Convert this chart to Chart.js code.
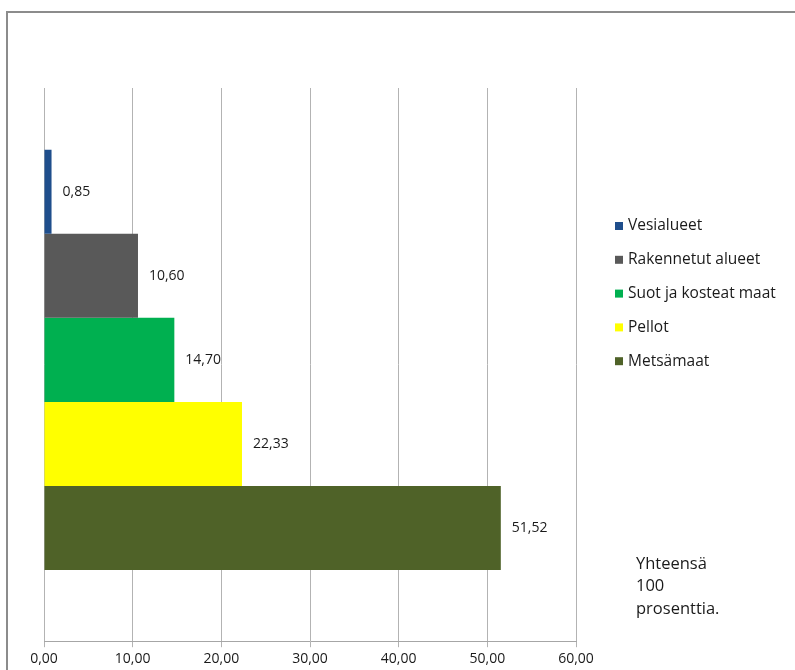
<!DOCTYPE html>
<html>
<head>
<meta charset="utf-8">
<script src="https://cdn.jsdelivr.net/npm/chart.js@4/dist/chart.umd.min.js"></script>
<style>
  html, body { margin: 0; padding: 0; background: #fff; }
  #wrap { position: relative; width: 795px; height: 670px; }
</style>
</head>
<body>
<div id="wrap"><canvas id="maankaytto" width="795" height="670"></canvas></div>
<script>
var seriesNames = ['Vesialueet', 'Rakennetut alueet', 'Suot ja kosteat maat', 'Pellot', 'Metsämaat'];
var seriesValues = [0.85, 10.60, 14.70, 22.33, 51.52];
var seriesColors = ['#1F4E8C', '#595959', '#00B050', '#FFFF00', '#4F6228'];
var xTicks = [0, 10, 20, 30, 40, 50, 60];
var noteLines = ['Yhteensä', '100', 'prosenttia.'];

var FONT = '"Open Sans", "Liberation Sans", sans-serif';

function fiNum(v) {
  return v.toFixed(2).replace('.', ',');
}

// frame round the whole chart
var framePlugin = {
  id: 'frame',
  beforeDraw: function (chart) {
    var ctx = chart.ctx;
    ctx.save();
    ctx.strokeStyle = '#8c8c8c';
    ctx.lineWidth = 2;
    ctx.strokeRect(7, 12, 1000, 1000);
    ctx.restore();
  }
};

// value next to the end of each bar
var valueLabels = {
  id: 'valueLabels',
  afterDatasetsDraw: function (chart) {
    var ctx = chart.ctx;
    ctx.save();
    ctx.font = '14px ' + FONT;
    ctx.fillStyle = '#1a1a1a';
    ctx.textBaseline = 'middle';
    ctx.textAlign = 'left';
    chart.data.datasets.forEach(function (ds, i) {
      var meta = chart.getDatasetMeta(i);
      meta.data.forEach(function (bar, j) {
        ctx.fillText(fiNum(ds.data[j].x), bar.x + 11, bar.y);
      });
    });
    ctx.restore();
  }
};

// legend at the right and the total note below it
var sidePanel = {
  id: 'sidePanel',
  afterDraw: function (chart) {
    var ctx = chart.ctx;
    var area = chart.chartArea;
    var x = area.right + 39;
    var y = 226;
    ctx.save();
    ctx.font = '15.5px ' + FONT;
    ctx.textBaseline = 'middle';
    ctx.textAlign = 'left';
    chart.data.datasets.forEach(function (ds) {
      ctx.fillStyle = ds.backgroundColor;
      ctx.fillRect(x, y - 4, 8, 8);
      ctx.fillStyle = '#1a1a1a';
      ctx.fillText(ds.label, x + 13, y);
      y += 33.8;
    });
    ctx.font = '16.5px ' + FONT;
    noteLines.forEach(function (line, k) {
      ctx.fillText(line, area.right + 60, 564 + k * 22.5);
    });
    ctx.restore();
  }
};

// one group of bars, sitting a little above the middle of the plot
var datasets = seriesNames.map(function (name, i) {
  return {
    label: name,
    data: [{ x: seriesValues[i], y: 0 }],
    backgroundColor: seriesColors[i],
    borderWidth: 0,
    categoryPercentage: 0.76,
    barPercentage: 1.0
  };
});

new Chart(document.getElementById('maankaytto'), {
  type: 'bar',
  data: { datasets: datasets },
  options: {
    indexAxis: 'y',
    responsive: false,
    animation: false,
    layout: { padding: { left: 44, right: 219, top: 88, bottom: 0 } },
    plugins: {
      legend: { display: false },
      tooltip: { enabled: false }
    },
    scales: {
      x: {
        type: 'linear',
        min: xTicks[0],
        max: xTicks[xTicks.length - 1],
        afterBuildTicks: function (scale) {
          scale.ticks = xTicks.map(function (v) { return { value: v }; });
        },
        grid: { color: '#b3b3b3', lineWidth: 1, tickLength: 6, drawTicks: true },
        border: { color: '#a6a6a6', width: 1 },
        ticks: {
          color: '#1a1a1a',
          font: { family: FONT, size: 14 },
          padding: 3,
          callback: function (v) { return fiNum(v); }
        }
      },
      y: {
        type: 'linear',
        display: false,
        min: -0.517,
        max: 0.483,
        // a single tick so the group may use the full plot height
        afterBuildTicks: function (scale) {
          scale.ticks = [{ value: 0 }];
        }
      }
    }
  },
  plugins: [framePlugin, valueLabels, sidePanel]
});
</script>
</body>
</html>
